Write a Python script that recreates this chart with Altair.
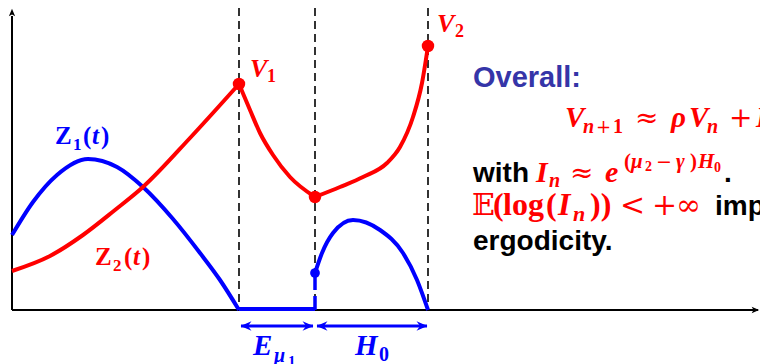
import altair as alt
import pandas as pd

RED = "#FF0000"
BLUE = "#0000FF"
INDIGO = "#3535A8"
BASE = 310  # pixel row of the time axis; heights are measured above it

# ---- curve data (t, height above axis) ----
z1_before_t = [12, 33, 57, 88, 117, 143, 173, 200, 220, 239]
z1_before_h = [75, 108, 135, 151, 143, 123, 91, 57, 30, 0]
z1_flat_t = [239, 315]
z1_flat_h = [1, 1]
z1_after_t = [315, 322, 333, 353, 380, 403, 417, 428]
z1_after_h = [37, 57, 77, 90, 80, 57, 30, 0]

z2_rise_t = [12, 50, 83, 115, 143, 190, 239]
z2_rise_h = [39, 54, 75, 100, 123, 172, 226]
v_fall_t = [239, 250, 260, 273, 290, 315]
v_fall_h = [226, 200, 177, 155, 133, 113]
v_rise_t = [315, 340, 363, 387, 400, 413, 422, 428]
v_rise_h = [113, 123, 133, 147, 163, 193, 227, 264]

red_dot_t = [239, 315, 428]
red_dot_h = [226, 113, 264]
blue_dot_t = [315]
blue_dot_h = [37]

event_t = [239, 315, 428]

rows = []
def series(name, ts, hs, color):
    for i, (t, h) in enumerate(zip(ts, hs)):
        rows.append({"x": t, "h": h, "s": name, "o": i, "c": color})

series("z1a", z1_before_t, z1_before_h, BLUE)
series("z1b", z1_flat_t, z1_flat_h, BLUE)
series("z1c", z1_after_t, z1_after_h, BLUE)
series("z2a", z2_rise_t, z2_rise_h, RED)
series("z2b", v_fall_t, v_fall_h, RED)
series("z2c", v_rise_t, v_rise_h, RED)
curves = pd.DataFrame(rows)

W, H = 752, 356
X = lambda f="x": alt.X(f"{f}:Q", scale=alt.Scale(domain=[8, 8 + W], nice=False, zero=False), axis=None)
Y = lambda f="h": alt.Y(f"{f}:Q", scale=alt.Scale(domain=[BASE - 8 - H, BASE - 8], nice=False, zero=False), axis=None)

lines = alt.Chart(curves).mark_line(interpolate="monotone", strokeWidth=4, strokeCap="butt").encode(
    x=X(), y=Y(), detail="s:N", order="o:Q", color=alt.Color("c:N", scale=None)
)

vlines = alt.Chart(pd.DataFrame({"x": event_t, "h": [302] * 3, "h2": [0] * 3})).mark_rule(
    color="black", strokeWidth=1.6, strokeDash=[8, 5]
).encode(x=X(), y=Y(), y2="h2:Q")

blue_jump = alt.Chart(pd.DataFrame({"x": [315], "h": [0], "h2": [37]})).mark_rule(
    color=BLUE, strokeWidth=3.5, strokeDash=[14, 6]
).encode(x=X(), y=Y(), y2="h2:Q")

# axes
xaxis = alt.Chart(pd.DataFrame({"x": [12], "x2": [758], "h": [0]})).mark_rule(
    color="black", strokeWidth=2
).encode(x=X(), x2="x2:Q", y=Y())
yaxis = alt.Chart(pd.DataFrame({"x": [12], "h": [0], "h2": [294]})).mark_rule(
    color="black", strokeWidth=2
).encode(x=X(), y=Y(), y2="h2:Q")
ARROW_UP = "M0,-1 L0.75,0.8 L0,0.35 L-0.75,0.8 Z"
heads = alt.Chart(pd.DataFrame({"x": [12, 755], "h": [297, 0], "a": [0, 90]})).mark_point(
    shape=ARROW_UP, filled=True, color="black", size=70, opacity=1
).encode(x=X(), y=Y(), angle=alt.Angle("a:Q", scale=None))

# double arrows under the axis
span_start = [241, 317]
span_end = [313, 427]
span_h = [-16, -16]
spans = alt.Chart(pd.DataFrame({"x": span_start, "x2": span_end, "h": span_h})).mark_rule(
    color=BLUE, strokeWidth=3
).encode(x=X(), x2="x2:Q", y=Y())
ARROW_LEFT = "M-1,0 L1,-0.85 L0.35,0 L1,0.85 Z"
head_x = [246, 308, 322, 422]
head_a = [0, 180, 0, 180]
arrowheads = alt.Chart(pd.DataFrame({"x": head_x, "h": [-16] * 4, "a": head_a})).mark_point(
    shape=ARROW_LEFT, filled=True, color=BLUE, size=120, opacity=1
).encode(x=X(), y=Y(), angle=alt.Angle("a:Q", scale=None))

red_dots = alt.Chart(pd.DataFrame({"x": red_dot_t, "h": red_dot_h})).mark_circle(
    color=RED, size=155, opacity=1
).encode(x=X(), y=Y())
blue_dots = alt.Chart(pd.DataFrame({"x": blue_dot_t, "h": blue_dot_h})).mark_circle(
    color=BLUE, size=95, opacity=1
).encode(x=X(), y=Y())

# ---- text labels: (style, text, x, baseline pixel row, size, colour) ----
labels = []
def add(style, text, x, ypix, size, color):
    labels.append({"st": style, "text": text, "x": x, "h": BASE - ypix, "sz": size, "c": color})

# curve labels
add("mu", "Z", 55, 144, 25, BLUE); add("mu", "1", 73, 150, 17, BLUE); add("mu", "(", 83, 144, 25, BLUE)
add("mi", "t", 92, 144, 25, BLUE); add("mu", ")", 101, 144, 25, BLUE)
add("mu", "Z", 95, 265, 25, RED); add("mu", "2", 113, 271, 17, RED); add("mu", "(", 124, 265, 25, RED)
add("mi", "t", 133, 265, 25, RED); add("mu", ")", 142, 265, 25, RED)
add("mi", "V", 250, 77, 26, RED); add("mu", "1", 267, 82, 18, RED)
add("mi", "V", 437, 32, 26, RED); add("mu", "2", 455, 37, 18, RED)
add("mi", "E", 253, 355, 29, BLUE); add("mi", "μ", 274, 362, 20, BLUE); add("mu", "1", 288, 366, 15, BLUE)
add("mi", "H", 355, 355, 29, BLUE); add("mu", "0", 379, 361, 20, BLUE)

# right-hand text
add("sans", "Overall:", 473, 87, 29, INDIGO)
add("mi", "V", 565, 127, 29, RED); add("mi", "n", 583, 133, 20, RED); add("op", "+", 596, 133, 18, RED)
add("mu", "1", 613, 133, 20, RED)
add("op", "≈", 635, 127, 28, RED); add("mi", "ρ", 671, 127, 29, RED); add("mi", "V", 689, 127, 29, RED)
add("mi", "n", 707, 133, 20, RED); add("op", "+", 729, 127, 28, RED); add("mi", "I", 756, 127, 29, RED)

add("sans", "with", 473, 182, 28, "black")
add("mi", "I", 536, 182, 30, RED); add("mi", "n", 549, 187, 20, RED)
add("op", "≈", 570, 182, 28, RED); add("mi", "e", 605, 182, 30, RED)
add("mu", "(", 624, 168, 21, RED); add("mi", "μ", 631, 168, 21, RED); add("mu", "2", 645, 171, 14, RED)
add("op", "−", 656, 168, 19, RED); add("mi", "γ", 676, 168, 21, RED); add("mu", ")", 690, 168, 21, RED)
add("mi", "H", 698, 168, 21, RED); add("mu", "0", 714, 172, 14, RED)
add("sans", ".", 724, 182, 28, "black")

add("op", "𝔼", 472, 215, 30, RED); add("mu", "(", 493, 215, 32, RED); add("mu", "log", 503, 215, 32, RED)
add("mu", "(", 546, 215, 32, RED)
add("mi", "I", 558, 215, 32, RED); add("mi", "n", 573, 221, 22, RED); add("mu", "))", 590, 215, 32, RED)
add("op", "<", 620, 215, 30, RED); add("op", "+", 652, 215, 30, RED); add("op", "∞", 676, 215, 30, RED)
add("sans", "imp", 715, 215, 28, "black")
add("sans", "ergodicity.", 473, 250, 28, "black")

lab = pd.DataFrame(labels)
styles = {
    "mi": dict(font="Liberation Serif", fontWeight="bold", fontStyle="italic"),
    "mu": dict(font="Liberation Serif", fontWeight="bold", fontStyle="normal"),
    "op": dict(font="DejaVu Serif", fontWeight="normal", fontStyle="normal"),
    "sans": dict(font="Liberation Sans", fontWeight="bold", fontStyle="normal"),
}
text_layers = []
for st, kw in styles.items():
    text_layers.append(
        alt.Chart(lab[lab.st == st]).mark_text(align="left", baseline="alphabetic", **kw).encode(
            x=X(), y=Y(), text="text:N",
            color=alt.Color("c:N", scale=None), size=alt.Size("sz:Q", scale=None)
        )
    )

chart = alt.layer(
    vlines, xaxis, yaxis, heads, lines, blue_jump, spans, arrowheads, red_dots, blue_dots, *text_layers
).properties(
    width=W, height=H, padding=0, autosize=alt.AutoSizeParams(type="none"), background="white"
).configure_view(stroke=None)

chart.save("out.html", embed_options={"renderer": "svg", "actions": False})
